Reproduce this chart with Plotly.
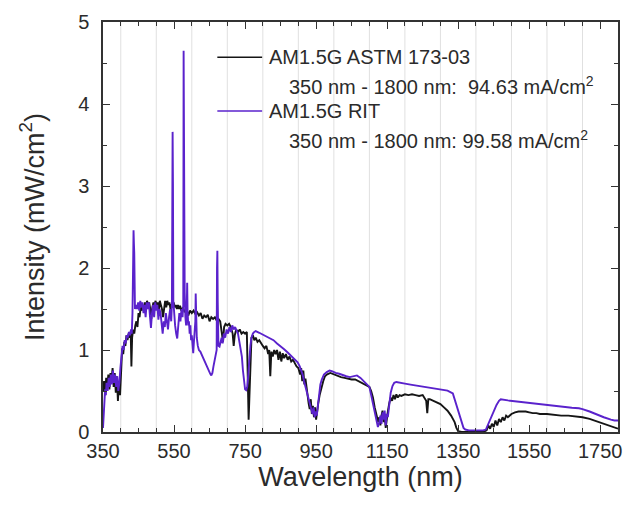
import plotly.graph_objects as go

# AM1.5G ASTM G173-03 reference spectrum (wavelength in nm, intensity in mW/cm^2)
astm_nm = [350, 353, 356, 359, 362, 365, 368, 371, 374, 377, 380, 383, 386, 389, 392, 395, 398,
           401, 404, 407, 410, 413, 416, 419, 422, 425, 428, 430, 432, 435, 438, 441, 444, 447,
           450, 453, 456, 459, 462, 465, 468, 471, 474, 477, 480, 483, 486, 489, 492, 495, 498,
           501, 504, 507, 510, 513, 516, 519, 522, 525, 528, 531, 534, 537, 540, 543, 546, 549,
           552, 555, 558, 561, 564, 567, 570, 575, 580, 585, 590, 595, 600, 605, 610, 615, 620,
           625, 630, 635, 640, 645, 650, 655, 660, 665, 670, 675, 680, 685, 688, 691, 695, 700,
           705, 710, 715, 718, 721, 725, 730, 735, 740, 745, 750, 755, 758, 760, 762, 765, 768,
           772, 776, 780, 785, 790, 795, 800, 805, 810, 815, 818, 821, 824, 828, 832, 836, 840,
           844, 848, 852, 856, 860, 865, 870, 875, 880, 885, 890, 895, 900, 905, 908, 911, 914,
           917, 920, 923, 926, 929, 932, 935, 938, 941, 944, 947, 950, 953, 956, 960, 965, 970,
           975, 980, 990, 1000, 1010, 1020, 1030, 1040, 1050, 1060, 1070, 1080, 1090, 1100,
           1105, 1110, 1115, 1120, 1125, 1128, 1131, 1134, 1137, 1140, 1143, 1146, 1149, 1152,
           1156, 1160, 1164, 1168, 1172, 1176, 1180, 1185, 1190, 1200, 1210, 1220, 1230, 1240,
           1250, 1255, 1260, 1263, 1266, 1270, 1280, 1290, 1300, 1310, 1320, 1330, 1340, 1345,
           1350, 1360, 1380, 1400, 1420, 1430, 1435, 1440, 1445, 1450, 1455, 1460, 1465, 1470,
           1475, 1480, 1485, 1490, 1500, 1510, 1520, 1530, 1540, 1550, 1560, 1570, 1580, 1600,
           1620, 1640, 1660, 1680, 1700, 1720, 1740, 1760, 1780, 1800]
astm_val = [0.50, 0.62, 0.45, 0.66, 0.55, 0.70, 0.52, 0.72, 0.62, 0.78, 0.55, 0.72, 0.48, 0.68,
            0.38, 0.62, 0.45, 0.88, 1.02, 0.95, 1.10, 1.05, 1.18, 1.12, 1.20, 1.15, 1.22, 0.80,
            1.15, 1.25, 1.20, 1.30, 1.35, 1.28, 1.45, 1.40, 1.52, 1.48, 1.55, 1.50, 1.58, 1.52,
            1.60, 1.55, 1.58, 1.50, 1.38, 1.52, 1.58, 1.55, 1.60, 1.52, 1.58, 1.48, 1.60, 1.55,
            1.50, 1.40, 1.55, 1.60, 1.52, 1.60, 1.55, 1.58, 1.50, 1.56, 1.52, 1.58, 1.52, 1.55,
            1.50, 1.55, 1.50, 1.54, 1.48, 1.52, 1.46, 1.50, 1.42, 1.48, 1.45, 1.48, 1.44, 1.46,
            1.42, 1.45, 1.38, 1.42, 1.40, 1.43, 1.35, 1.40, 1.38, 1.40, 1.36, 1.38, 1.35, 1.22,
            1.10, 1.28, 1.32, 1.30, 1.32, 1.28, 1.20, 1.05, 1.18, 1.25, 1.22, 1.25, 1.20, 1.22,
            1.20, 1.22, 0.70, 0.15, 0.40, 0.95, 1.15, 1.18, 1.12, 1.15, 1.10, 1.12, 1.08, 1.05,
            1.02, 1.05, 0.95, 1.00, 0.68, 0.98, 0.92, 1.00, 0.95, 1.00, 0.88, 0.98, 0.86, 0.96,
            0.90, 0.95, 0.88, 0.92, 0.86, 0.88, 0.84, 0.80, 0.78, 0.70, 0.78, 0.62, 0.75, 0.58,
            0.65, 0.52, 0.45, 0.35, 0.28, 0.40, 0.22, 0.32, 0.18, 0.30, 0.15, 0.28, 0.35, 0.45,
            0.55, 0.62, 0.68, 0.70, 0.72, 0.70, 0.68, 0.67, 0.66, 0.65, 0.64, 0.64, 0.62, 0.60,
            0.58, 0.55, 0.50, 0.42, 0.30, 0.22, 0.12, 0.18, 0.08, 0.20, 0.26, 0.12, 0.22, 0.05,
            0.18, 0.25, 0.35, 0.42, 0.38, 0.45, 0.40, 0.46, 0.42, 0.45, 0.44, 0.46, 0.45, 0.46,
            0.45, 0.44, 0.45, 0.42, 0.38, 0.23, 0.40, 0.40, 0.38, 0.36, 0.34, 0.30, 0.26, 0.20,
            0.12, 0.05, 0.01, 0.00, 0.00, 0.00, 0.00, 0.02, 0.08, 0.04, 0.10, 0.06, 0.14, 0.08,
            0.16, 0.12, 0.18, 0.14, 0.20, 0.18, 0.22, 0.24, 0.25, 0.25, 0.25, 0.24, 0.23, 0.23,
            0.22, 0.22, 0.21, 0.20, 0.20, 0.19, 0.18, 0.16, 0.13, 0.10, 0.07, 0.04]

# AM1.5G RIT simulator spectrum
rit_nm = [350, 352, 354, 356, 358, 360, 363, 366, 369, 372, 375, 378, 381, 384, 387, 390, 393,
          396, 399, 402, 405, 408, 411, 414, 417, 420, 423, 426, 429, 431, 433, 435, 436, 437,
          438, 439, 440, 443, 446, 449, 452, 455, 458, 461, 464, 467, 470, 473, 476, 479, 482,
          485, 488, 491, 494, 497, 500, 503, 506, 509, 512, 515, 518, 521, 524, 527, 530, 533,
          536, 539, 542, 544, 545, 546, 547, 548, 550, 553, 556, 559, 562, 565, 568, 571, 574,
          576, 577, 578, 579, 580, 582, 584, 586, 587, 588, 590, 592, 594, 596, 598, 600, 602,
          604, 606, 608, 610, 611, 612, 614, 617, 620, 624, 628, 632, 636, 640, 644, 648, 652,
          655, 658, 661, 664, 667, 670, 671, 672, 673, 675, 678, 681, 684, 687, 690, 694, 698,
          702, 706, 710, 714, 718, 722, 726, 730, 734, 738, 741, 744, 747, 750, 753, 756, 759,
          762, 765, 768, 772, 776, 780, 790, 800, 810, 820, 830, 840, 850, 860, 870, 880, 890,
          898, 904, 908, 912, 916, 920, 924, 928, 932, 936, 940, 943, 946, 949, 952, 955, 958,
          962, 966, 972, 980, 988, 996, 1005, 1015, 1025, 1035, 1045, 1055, 1065, 1075, 1085,
          1095, 1100, 1105, 1110, 1115, 1120, 1124, 1128, 1131, 1134, 1137, 1140, 1143, 1146,
          1149, 1152, 1156, 1160, 1165, 1170, 1176, 1185, 1200, 1220, 1240, 1260, 1280, 1300,
          1320, 1335, 1340, 1345, 1350, 1355, 1360, 1365, 1370, 1380, 1400, 1420, 1428, 1435,
          1442, 1450, 1458, 1465, 1470, 1490, 1510, 1530, 1550, 1570, 1590, 1610, 1630, 1650,
          1670, 1690, 1700, 1720, 1740, 1760, 1780, 1790, 1800]
rit_val = [0.05, 0.20, 0.35, 0.52, 0.45, 0.60, 0.50, 0.66, 0.55, 0.70, 0.58, 0.75, 0.60, 0.70,
           0.55, 0.68, 0.50, 0.60, 0.78, 0.95, 1.05, 1.00, 1.12, 1.08, 1.18, 1.15, 1.22, 1.18,
           1.25, 1.20, 1.45, 2.10, 2.46, 2.30, 2.18, 1.80, 1.50, 1.55, 1.50, 1.58, 1.48, 1.60,
           1.52, 1.58, 1.45, 1.55, 1.40, 1.58, 1.50, 1.58, 1.42, 1.27, 1.45, 1.55, 1.40, 1.58,
           1.48, 1.55, 1.37, 1.50, 1.45, 1.30, 1.20, 1.35, 1.28, 1.45, 1.30, 1.25, 1.40, 1.50,
           1.35, 1.55, 2.60, 3.66, 3.00, 1.60, 1.45, 1.30, 1.20, 1.14, 1.30, 1.45, 1.35, 1.50,
           1.40, 1.55, 4.65, 3.40, 4.30, 1.70, 1.40, 1.30, 1.55, 1.82, 1.50, 1.30, 1.35, 1.20,
           1.30, 1.12, 1.18, 1.00, 0.96, 1.10, 1.20, 1.35, 1.69, 1.30, 1.15, 1.05, 1.00, 0.98,
           0.94, 0.90, 0.85, 0.82, 0.78, 0.75, 0.71, 0.69, 0.72, 0.80, 0.88, 0.92, 1.00, 2.00,
           2.21, 1.60, 1.05, 1.04, 1.10, 1.15, 1.08, 1.20, 1.15, 1.25, 1.20, 1.28, 1.22, 1.30,
           1.25, 1.28, 1.24, 1.20, 1.10, 1.00, 0.92, 0.75, 0.58, 0.52, 0.51, 0.55, 0.70, 0.90,
           1.05, 1.15, 1.20, 1.22, 1.23, 1.21, 1.19, 1.17, 1.15, 1.12, 1.08, 1.05, 1.01, 0.97,
           0.93, 0.89, 0.85, 0.80, 0.76, 0.70, 0.62, 0.55, 0.50, 0.42, 0.35, 0.28, 0.22, 0.30,
           0.18, 0.25, 0.20, 0.32, 0.45, 0.58, 0.64, 0.70, 0.73, 0.75, 0.74, 0.72, 0.71, 0.69,
           0.68, 0.67, 0.68, 0.69, 0.66, 0.62, 0.58, 0.55, 0.45, 0.35, 0.22, 0.12, 0.06, 0.12,
           0.20, 0.10, 0.24, 0.15, 0.26, 0.08, 0.22, 0.18, 0.35, 0.48, 0.56, 0.60, 0.61, 0.60,
           0.59, 0.575, 0.56, 0.55, 0.535, 0.52, 0.505, 0.47, 0.40, 0.32, 0.24, 0.16, 0.10,
           0.05, 0.03, 0.02, 0.02, 0.02, 0.03, 0.10, 0.18, 0.26, 0.33, 0.38, 0.40, 0.385, 0.375,
           0.36, 0.35, 0.34, 0.33, 0.32, 0.31, 0.30, 0.295, 0.29, 0.28, 0.25, 0.21, 0.18, 0.15,
           0.14, 0.14]

# Legend entries: series label and integrated photocurrent over 350-1800 nm
series_names = ["AM1.5G ASTM 173-03", "AM1.5G RIT"]
series_current = ["350 nm - 1800 nm:  94.63 mA/cm<sup>2</sup>",
                  "350 nm - 1800 nm: 99.58 mA/cm<sup>2</sup>"]
series_colors = ["#151515", "#5a22cc"]

# Vertical guide lines every 100 nm
grid_nm = list(range(400, 1800, 100))

FONT = "Liberation Sans, Arial, sans-serif"
TEXT = "#2b2b2b"

fig = go.Figure()
fig.add_trace(go.Scatter(x=astm_nm, y=astm_val, mode="lines", name=series_names[0],
                         line=dict(color=series_colors[0], width=1.9)))
fig.add_trace(go.Scatter(x=rit_nm, y=rit_val, mode="lines", name=series_names[1],
                         line=dict(color=series_colors[1], width=1.9)))

shapes = []
for g in grid_nm:
    shapes.append(dict(type="line", xref="x", yref="y", x0=g, x1=g, y0=0, y1=5,
                       line=dict(color="#e0e0e0", width=1), layer="below"))
# white panel behind the legend text
shapes.append(dict(type="rect", xref="paper", yref="paper", x0=0.21, x1=0.98,
                   y0=0.685, y1=0.952, fillcolor="white", line=dict(width=0), layer="below"))

# legend: line samples + labels
legend_rows_y = [0.914, 0.783]   # paper y of the two series rows
sub_rows_y = [0.846, 0.714]
for i in range(2):
    shapes.append(dict(type="line", xref="paper", yref="paper", x0=0.222, x1=0.309,
                       y0=legend_rows_y[i], y1=legend_rows_y[i],
                       line=dict(color=series_colors[i], width=1.6)))

annotations = []
for i in range(2):
    annotations.append(dict(xref="paper", yref="paper", x=0.318, y=legend_rows_y[i],
                            xanchor="left", yanchor="middle", showarrow=False,
                            text=series_names[i], font=dict(family=FONT, size=20, color=TEXT)))
    annotations.append(dict(xref="paper", yref="paper", x=0.357, y=sub_rows_y[i],
                            xanchor="left", yanchor="middle", showarrow=False,
                            text=series_current[i], font=dict(family=FONT, size=20, color=TEXT)))

axis_common = dict(showline=True, linecolor="#333333", linewidth=1.5, mirror="allticks",
                   ticks="inside", tickcolor="#333333", showgrid=False, zeroline=False,
                   tickfont=dict(family=FONT, size=20, color=TEXT))

fig.update_layout(
    width=633, height=510,
    margin=dict(l=103, r=11, t=22, b=78),
    paper_bgcolor="white", plot_bgcolor="white",
    showlegend=False,
    shapes=shapes, annotations=annotations,
    xaxis=dict(range=[350, 1800], tick0=350, dtick=200, ticklen=7, tickwidth=1.3,
               minor=dict(dtick=50, tick0=350, ticklen=4, ticks="inside", tickcolor="#333333"),
               title=dict(text="Wavelength (nm)", font=dict(family=FONT, size=27, color=TEXT),
                          standoff=4),
               **axis_common),
    yaxis=dict(range=[0, 5], tick0=0, dtick=1, ticklen=7, tickwidth=1.3,
               minor=dict(dtick=0.5, ticklen=4, ticks="inside", tickcolor="#333333"),
               title=dict(text="Intensity (mW/cm<sup>2</sup>)",
                          font=dict(family=FONT, size=27, color=TEXT), standoff=26),
               ticklabelstandoff=8,
               **axis_common),
)

fig.write_html("out.html")
